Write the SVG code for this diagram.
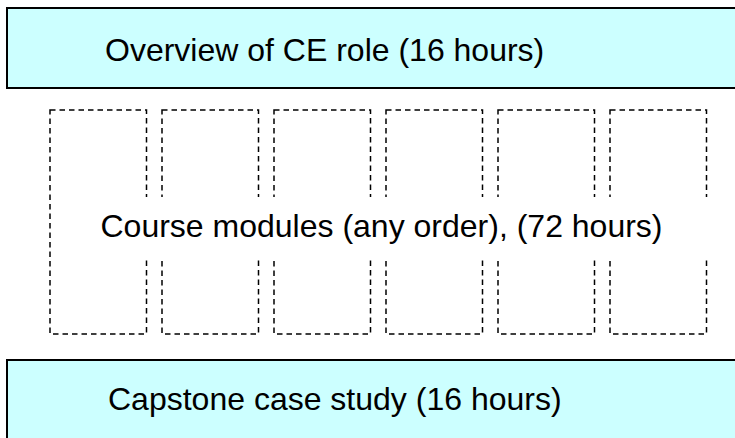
<svg xmlns="http://www.w3.org/2000/svg" width="735" height="438" viewBox="0 0 735 438">
  <style>
    .band { fill: #CCFFFF; stroke: #000; stroke-width: 2; }
    .module { fill: none; stroke: #000; stroke-width: 1.5; stroke-dasharray: 5.5 4; }
    .label { font-family: "Liberation Sans", Arial, sans-serif; font-size: 32px; fill: #000; }
  </style>
  <rect x="0" y="0" width="735" height="438" fill="#fff"/>
  <g id="overview">
    <rect class="band" x="7" y="8" width="740" height="80"/>
    <text class="label" x="105" y="61">Overview of CE role (16 hours)</text>
  </g>
  <g id="modules">
    <rect class="module" x="50" y="110" width="96.5" height="224"/>
    <rect class="module" x="162" y="110" width="96.5" height="224"/>
    <rect class="module" x="274" y="110" width="96.5" height="224"/>
    <rect class="module" x="386" y="110" width="96.5" height="224"/>
    <rect class="module" x="498" y="110" width="96.5" height="224"/>
    <rect class="module" x="610" y="110" width="96.5" height="224"/>
    <rect x="56" y="197" width="658" height="60" fill="#fff"/>
    <text class="label" x="100.5" y="237">Course modules (any order), (72 hours)</text>
  </g>
  <g id="capstone">
    <rect class="band" x="7" y="360" width="740" height="100"/>
    <text class="label" x="108" y="410">Capstone case study (16 hours)</text>
  </g>
  <g id="connectors"/>
</svg>
